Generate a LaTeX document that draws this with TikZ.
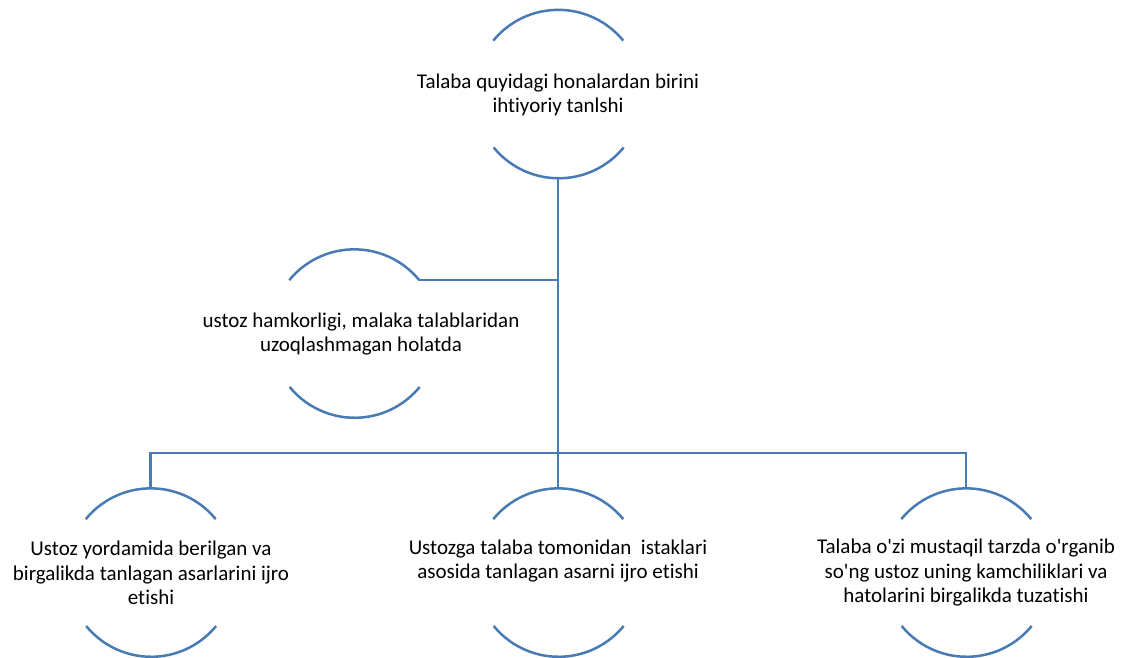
\documentclass[tikz,border=0pt]{standalone}
\usepackage{fontspec}
\setmainfont[Ligatures={NoCommon},Mapping={}]{Carlito}
\definecolor{linec}{RGB}{72,122,180}
\newcommand{\apo}{\char"0027\relax}
\begin{document}
\begin{tikzpicture}[x=1pt,y=1pt,
  arcnode/.style={circle, minimum size=168pt, inner sep=0pt, outer sep=0pt},
  txt/.style={align=center, font=\fontsize{21}{24.5}\selectfont, inner sep=0pt},
  conn/.style={draw=linec, line width=2.5pt},
  arcs/.style={draw=linec, line width=2.5pt}]
\useasboundingbox (0,0) rectangle (1122,657);
% circles (invisible)
\node[arcnode] (topc) at (558,563.5) {};
\node[arcnode] (midc) at (354,324) {};
\node[arcnode] (b1c) at (150.5,85) {};
\node[arcnode] (b2c) at (558,85) {};
\node[arcnode] (b3c) at (966,85) {};
% arcs
\foreach \n in {topc,midc,b1c,b2c,b3c}{
  \draw[arcs] (\n.39.3) arc[start angle=39.3, end angle=140.7, radius=84];
  \draw[arcs] (\n.-140.7) arc[start angle=-140.7, end angle=-39.3, radius=84];
}
% texts
\node[txt] (top) at (558,562) {Talaba quyidagi honalardan birini\\ihtiyoriy tanlshi};
\node[txt] (mid) at (361,323) {ustoz hamkorligi, malaka talablaridan\\uzoqlashmagan holatda};
\node[txt] (b1) at (151,84) {Ustoz yordamida berilgan va\\birgalikda tanlagan asarlarini ijro\\etishi};
\node[txt] (b2) at (558,96) {Ustozga talaba tomonidan\ \ istaklari\\asosida tanlagan asarni ijro etishi};
\node[txt] (b3) at (966,84) {Talaba o\apo zi mustaqil tarzda o\apo rganib\\so\apo ng ustoz uning kamchiliklari va\\hatolarini birgalikda tuzatishi};
% connectors
\coordinate (bus) at (558,204);
\draw[conn] (topc.south) -- (bus);
\draw[conn] (midc.39.3) -- (midc.39.3 -| topc.south);
\draw[conn] (b1c.north) |- (bus) -| (b3c.north);
\draw[conn] (bus) -- (b2c.north);
\end{tikzpicture}
\end{document}
